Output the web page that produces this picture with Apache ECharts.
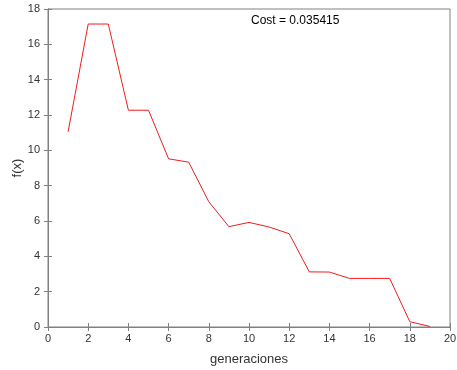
<!DOCTYPE html>
<html>
<head>
<meta charset="utf-8">
<script src="https://cdn.jsdelivr.net/npm/echarts@6/dist/echarts.min.js"></script>
<style>
  html, body { margin: 0; padding: 0; background: #fff; }
  #chart { width: 457px; height: 370px; }
</style>
</head>
<body>
<div id="chart"></div>
<script>
// data
const generations = [1, 2, 3, 4, 5, 6, 7, 8, 9, 10, 11, 12, 13, 14, 15, 16, 17, 18, 19];
const fValues = [11.05, 17.15, 17.15, 12.27, 12.27, 9.52, 9.33, 7.09, 5.68, 5.92, 5.66, 5.28, 3.12, 3.11, 2.75, 2.75, 2.75, 0.3, 0.03];
const costLabel = 'Cost = 0.035415';

const chart = echarts.init(document.getElementById('chart'));

const axisColor = '#808080';
const textColor = '#333333';
const font = 'Liberation Sans, Arial, sans-serif';

const option = {
    animation: false,
    grid: {
        left: 48,
        right: 7,
        top: 9,
        bottom: 43,
        outerBoundsMode: 'none',
        containLabel: false,
        show: true,
        borderColor: axisColor,
        borderWidth: 1
    },
    graphic: [{
        type: 'text',
        left: 251,
        top: 15,
        style: {
            text: costLabel,
            font: '12px ' + font,
            fill: '#000'
        }
    }],
    xAxis: [{
        type: 'value',
        min: 0,
        max: 20,
        interval: 2,
        name: 'generaciones',
        nameLocation: 'middle',
        nameGap: 26,
        nameMoveOverlap: false,
        nameTextStyle: { color: textColor, fontSize: 13, fontFamily: font },
        axisLine: { show: true, lineStyle: { color: axisColor } },
        axisTick: { show: true, inside: true, length: 4, lineStyle: { color: axisColor } },
        axisLabel: { color: textColor, fontSize: 11, fontFamily: font, margin: 6 },
        splitLine: { show: false }
    }, {
        type: 'value',
        position: 'top',
        min: 0,
        max: 20,
        interval: 2,
        axisLine: { show: true, lineStyle: { color: axisColor } },
        axisTick: { show: true, inside: true, length: 4, lineStyle: { color: axisColor } },
        axisLabel: { show: false },
        splitLine: { show: false }
    }],
    yAxis: [{
        type: 'value',
        min: 0,
        max: 18,
        interval: 2,
        name: 'f(x)',
        nameLocation: 'middle',
        nameGap: 24,
        nameMoveOverlap: false,
        nameTextStyle: { color: textColor, fontSize: 13, fontFamily: font },
        axisLine: { show: true, lineStyle: { color: axisColor } },
        axisTick: { show: true, inside: true, length: 4, lineStyle: { color: axisColor } },
        axisLabel: { color: textColor, fontSize: 11, fontFamily: font, margin: 8 },
        splitLine: { show: false }
    }, {
        type: 'value',
        position: 'right',
        min: 0,
        max: 18,
        interval: 2,
        axisLine: { show: true, lineStyle: { color: axisColor } },
        axisTick: { show: true, inside: true, length: 4, lineStyle: { color: axisColor } },
        axisLabel: { show: false },
        splitLine: { show: false }
    }],
    series: [{
        type: 'line',
        data: generations.map((g, i) => [g, fValues[i]]),
        showSymbol: false,
        lineStyle: { color: '#f01c1c', width: 1 },
        itemStyle: { color: '#f01c1c' }
    }]
};

chart.setOption(option);

window.addEventListener('resize', function() {
    chart.resize();
});
</script>
</body>
</html>
